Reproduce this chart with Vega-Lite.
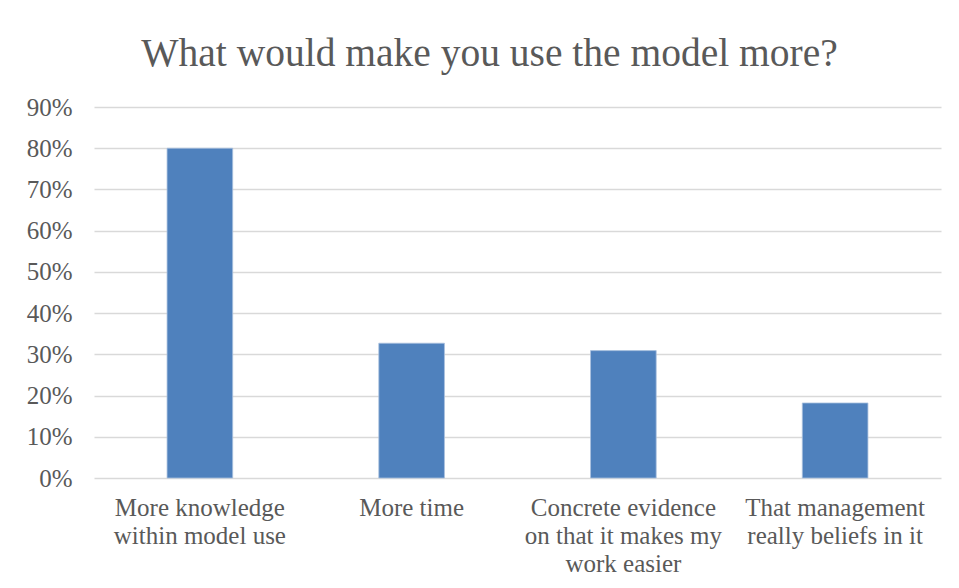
{
  "$schema": "https://vega.github.io/schema/vega-lite/v6.json",
  "width": 847,
  "height": 371,
  "autosize": {"type": "none"},
  "padding": {"left": 94, "top": 107, "right": 18, "bottom": 110},
  "background": "#ffffff",
  "title": {
    "text": "What would make you use the model more?",
    "font": "Liberation Serif",
    "fontSize": 39.5,
    "fontWeight": "normal",
    "color": "#595959",
    "anchor": "middle",
    "dx": -28,
    "offset": 21
  },
  "data": {
    "values": [
      {"answer": "More knowledge within model use", "share": 0.8},
      {"answer": "More time", "share": 0.327},
      {"answer": "Concrete evidence on that it makes my work easier", "share": 0.309},
      {"answer": "That management really beliefs in it", "share": 0.182}
    ]
  },
  "mark": {"type": "bar", "color": "#4f81bd", "stroke": "#a9c0de", "strokeWidth": 0.8},
  "encoding": {
    "x": {
      "field": "answer",
      "type": "nominal",
      "sort": null,
      "scale": {"paddingInner": 0.69, "paddingOuter": 0.345},
      "axis": {
        "title": null,
        "labelAngle": 0,
        "domain": false,
        "ticks": false,
        "labelPadding": 17,
        "labelFont": "Liberation Serif",
        "labelFontSize": 25,
        "labelColor": "#595959",
        "labelLineHeight": 28,
        "labelBaseline": "top",
        "labelLimit": 300,
        "labelExpr": "datum.value == 'More knowledge within model use' ? ['More knowledge', 'within model use'] : datum.value == 'Concrete evidence on that it makes my work easier' ? ['Concrete evidence', 'on that it makes my', 'work easier'] : datum.value == 'That management really beliefs in it' ? ['That management', 'really beliefs in it'] : datum.value"
      }
    },
    "y": {
      "field": "share",
      "type": "quantitative",
      "scale": {"domain": [0, 0.9], "nice": false},
      "axis": {
        "title": null,
        "values": [0, 0.1, 0.2, 0.3, 0.4, 0.5, 0.6, 0.7, 0.8, 0.9],
        "format": ".0%",
        "domain": false,
        "ticks": false,
        "labelPadding": 22,
        "labelFont": "Liberation Serif",
        "labelFontSize": 25,
        "labelColor": "#595959",
        "grid": true,
        "gridColor": "#d9d9d9",
        "gridWidth": 1.5
      }
    }
  },
  "config": {
    "view": {"stroke": null}
  }
}
